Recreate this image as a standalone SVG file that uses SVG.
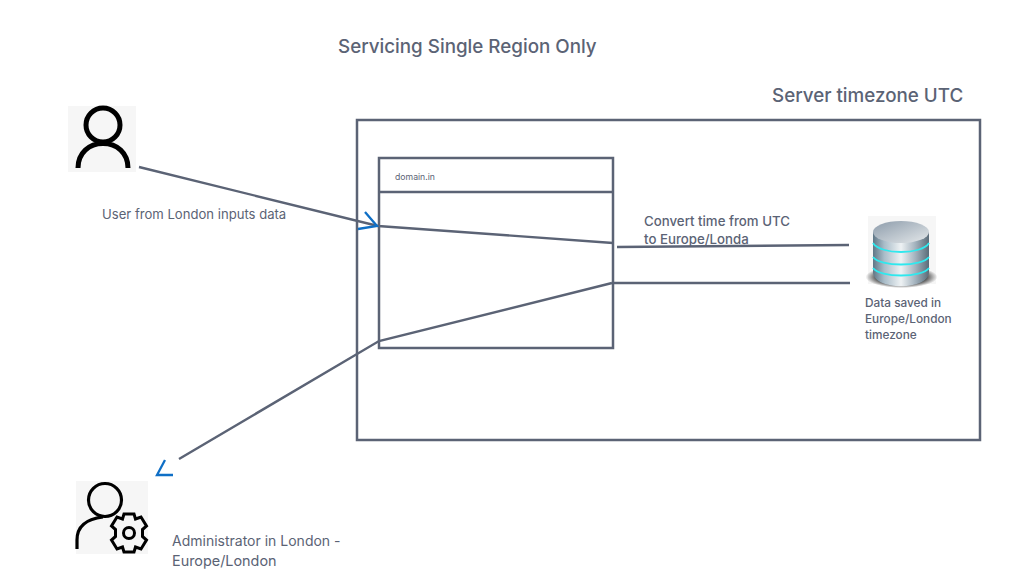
<svg xmlns="http://www.w3.org/2000/svg" width="1021" height="578" viewBox="0 0 1021 578">
<defs>
<linearGradient id="cyl" x1="0" y1="0" x2="1" y2="0">
<stop offset="0" stop-color="#5f7686"/><stop offset="0.2" stop-color="#a9bcc8"/><stop offset="0.5" stop-color="#eef2f4"/><stop offset="0.75" stop-color="#a5b4bf"/><stop offset="1" stop-color="#5a6b78"/>
</linearGradient>
<linearGradient id="top" x1="0" y1="0" x2="1" y2="1">
<stop offset="0" stop-color="#8d9cab"/><stop offset="1" stop-color="#e4e8ea"/>
</linearGradient>
<radialGradient id="shadow"><stop offset="0.6" stop-color="#1c1c1c"/><stop offset="1" stop-color="#222" stop-opacity="0"/></radialGradient>
</defs>
<style>
text{font-family:Inter,"Liberation Sans",sans-serif;fill:#5b6375}
.b{fill:none;stroke:#5b6375;stroke-width:2.5}
.c{fill:none;stroke:#5b6375;stroke-width:2.4}
.a{fill:none;stroke:#0f6fc6;stroke-width:2.3}
.i{fill:none;stroke:#000}
.h{font-size:18.800px;font-weight:500}
.m{font-size:13.100px}
.s{font-size:11.800px;font-weight:500}
.l{font-size:14px}
.n{font-size:13.250px;font-weight:500}
</style>
<rect width="1021" height="578" fill="#fff"/>
<text id="title" class="h" x="338" y="53">Servicing Single Region Only</text>
<g id="server"><rect class="b" x="357" y="120" width="623" height="320"/><text class="h" x="772" y="102">Server timezone UTC</text></g>
<g id="browser"><rect class="b" x="379" y="158" width="234" height="190"/><line class="b" x1="379" y1="192" x2="613" y2="192"/><text x="395" y="180" font-size="8.700">domain.in</text></g>
<g id="user">
<rect x="68" y="106" width="68" height="66" fill="#f6f6f6"/>
<circle class="i" cx="103" cy="125" r="17" stroke-width="5"/>
<path class="i" stroke-width="5" d="M78 168C78 153 89 143.500 103 143.500S128 153 128 168"/>
<text class="m" x="102" y="219">User from London inputs data</text>
</g>
<g id="admin">
<rect x="76" y="481" width="72" height="73" fill="#f6f6f6"/>
<circle class="i" cx="105" cy="500" r="16.500" stroke-width="3.200"/>
<path class="i" stroke-width="3.200" d="M77 549V540C77 527 86 519 103 517"/>
<path class="i" stroke-width="3" d="M124 514h10l1.500 5 5.500-2 5.500 9-4 3.500 0 7 4 3.500-5.500 9-5.500-2-1.500 5h-10l-1.500-5-5.500 2-5.500-9 4-3.500 0-7-4-3.500 5.500-9 5.500 2z"/>
<circle class="i" cx="129" cy="533" r="5.500" stroke-width="3"/>
<text class="l" x="172" y="546">Administrator in London -</text><text class="l" x="172" y="566" font-size="14.300" style="font-size:14.400px">Europe/London</text>
</g>
<g id="database">
<rect x="868" y="216" width="68" height="68" fill="#f6f6f6"/>
<ellipse cx="901.500" cy="277" rx="36" ry="11" fill="url(#shadow)"/>
<path d="M873 232V272C873 291 929 291 929 272V232Z" fill="url(#cyl)"/>
<ellipse cx="901" cy="232" rx="28" ry="11" fill="url(#top)"/>
<path d="M873 243C880 255 922 255 929 243M873 257C880 267 922 267 929 257M873 268C880 278 922 278 929 268" fill="none" stroke="#2fe8ee" stroke-width="1.800"/>
<text class="s" x="865" y="307">Data saved in</text><text class="s" x="865" y="323">Europe/London</text><text class="s" x="865" y="339">timezone</text>
</g>
<g id="connectors">
<path class="c" d="M139 167L378 226L613 243M617 247L849 245M613 283H850M612 283L379 341L179 459"/>
<path class="a" d="M365 212L377 226L358 229M173 475H157L165 460"/>
</g>
<text class="n" x="644" y="226">Convert time from UTC</text>
<text class="n" x="644" y="244">to Europe/Londa</text>
</svg>
